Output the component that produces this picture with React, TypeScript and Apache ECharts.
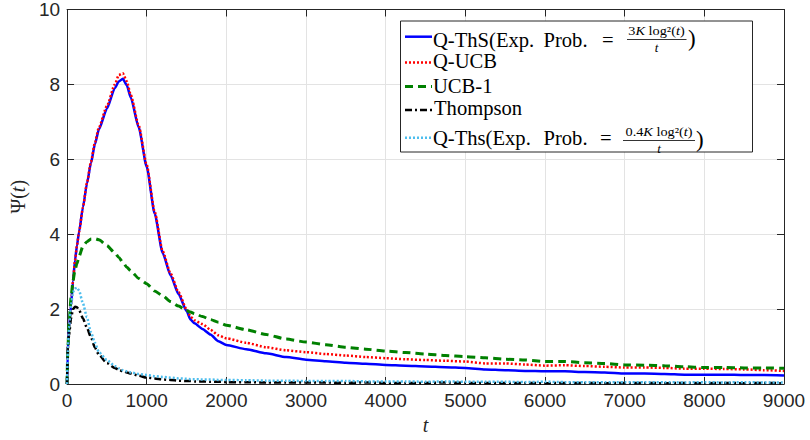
import React, { useEffect, useRef } from "react";
import * as echarts from "echarts";

const tPoints = [0, 10, 25, 50, 75, 100, 125, 150, 200, 250, 300, 350, 400, 500, 600, 650, 700, 750, 800, 900, 1000, 1100, 1200, 1300, 1400, 1500, 1550, 1600, 1700, 1800, 1900, 2000, 2250, 2500, 2750, 3000, 3250, 3500, 3750, 4000, 4250, 4500, 4750, 5000, 5250, 5500, 5750, 6000, 6250, 6500, 6750, 7000, 7250, 7500, 7750, 8000, 8250, 8500, 8750, 9000];

const qThs3K = [0, 0.9, 1.5, 2.1, 2.75, 3.3, 3.7, 4.05, 4.72, 5.35, 5.9, 6.4, 6.8, 7.35, 7.9, 8.08, 8.15, 7.98, 7.65, 6.85, 5.8, 4.55, 3.5, 2.9, 2.4, 1.95, 1.72, 1.62, 1.47, 1.32, 1.14, 1.04, 0.93, 0.82, 0.72, 0.65, 0.61, 0.57, 0.54, 0.51, 0.49, 0.47, 0.45, 0.43, 0.39, 0.37, 0.35, 0.34, 0.34, 0.32, 0.31, 0.28, 0.28, 0.27, 0.25, 0.25, 0.25, 0.24, 0.24, 0.23];
const qUcb = [0, 0.9, 1.5, 2.1, 2.75, 3.3, 3.7, 4.05, 4.72, 5.37, 5.93, 6.45, 6.85, 7.42, 8.0, 8.25, 8.3, 8.08, 7.72, 6.9, 5.85, 4.6, 3.55, 2.95, 2.45, 2.0, 1.8, 1.7, 1.6, 1.45, 1.3, 1.22, 1.1, 0.98, 0.9, 0.85, 0.8, 0.76, 0.72, 0.69, 0.66, 0.64, 0.62, 0.6, 0.55, 0.55, 0.52, 0.49, 0.5, 0.48, 0.46, 0.44, 0.44, 0.43, 0.41, 0.41, 0.4, 0.39, 0.37, 0.35];
const ucb1 = [0, 0.9, 1.6, 2.3, 2.75, 3.05, 3.22, 3.4, 3.68, 3.8, 3.87, 3.88, 3.85, 3.7, 3.5, 3.38, 3.25, 3.12, 3.02, 2.82, 2.68, 2.48, 2.36, 2.2, 2.08, 1.96, 1.92, 1.88, 1.8, 1.72, 1.65, 1.57, 1.45, 1.32, 1.2, 1.12, 1.05, 0.98, 0.93, 0.88, 0.84, 0.8, 0.76, 0.73, 0.7, 0.66, 0.64, 0.6, 0.6, 0.57, 0.55, 0.51, 0.5, 0.49, 0.46, 0.44, 0.44, 0.43, 0.43, 0.42];
const thompson = [0, 1.0, 1.3, 1.75, 2.0, 2.06, 2.05, 1.98, 1.75, 1.5, 1.25, 0.97, 0.78, 0.56, 0.43, 0.38, 0.34, 0.31, 0.28, 0.22, 0.17, 0.15, 0.12, 0.11, 0.09, 0.08, 0.08, 0.07, 0.07, 0.06, 0.06, 0.05, 0.05, 0.04, 0.04, 0.04, 0.04, 0.03, 0.04, 0.03, 0.03, 0.03, 0.04, 0.03, 0.03, 0.03, 0.03, 0.02, 0.03, 0.03, 0.02, 0.03, 0.03, 0.02, 0.03, 0.02, 0.03, 0.02, 0.03, 0.02];
const qThs04K = [0, 0.9, 1.5, 2.1, 2.45, 2.55, 2.57, 2.5, 2.15, 1.78, 1.38, 1.1, 0.85, 0.64, 0.48, 0.42, 0.37, 0.34, 0.31, 0.27, 0.24, 0.21, 0.19, 0.17, 0.15, 0.14, 0.13, 0.13, 0.12, 0.12, 0.11, 0.11, 0.1, 0.09, 0.09, 0.08, 0.08, 0.08, 0.07, 0.07, 0.07, 0.06, 0.07, 0.06, 0.06, 0.06, 0.05, 0.06, 0.05, 0.05, 0.05, 0.05, 0.05, 0.05, 0.04, 0.05, 0.04, 0.05, 0.04, 0.04];

const seriesNames = ["Q-ThS(Exp. Prob. = 3K log²(t)/t)", "Q-UCB", "UCB-1", "Thompson", "Q-Ths(Exp. Prob. = 0.4K log²(t)/t)"];
const seriesValues = [qThs3K, qUcb, ucb1, thompson, qThs04K];
const seriesColors = ["#0000ff", "#ff0000", "#008000", "#000000", "#4dbeee"];
const seriesDash: any[] = ["solid", [2, 2], [8, 5], [7, 3, 2, 3], [2, 2]];
const seriesWidth = [2.5, 2.5, 3, 2.5, 2.5];

const xTickMax = 9000;
const yTickMax = 10;

const SERIF = "'Liberation Serif', 'DejaVu Serif', serif";
const SANS = "'Liberation Sans', Arial, Helvetica, sans-serif";
const AX = "#262626";

export default function App() {
  const ref = useRef<HTMLDivElement>(null);
  useEffect(() => {
    if (!ref.current) return;
    const chart = echarts.init(ref.current, null, { renderer: "svg" });

    const series = seriesValues.map((vals, i) => ({
      name: seriesNames[i],
      type: "line",
      data: tPoints.map((t, k) => [t, vals[k]]),
      showSymbol: false,
      smooth: 0.2,
      smoothMonotone: "x",
      lineStyle: { color: seriesColors[i], width: seriesWidth[i], type: seriesDash[i], cap: "butt" },
      itemStyle: { color: seriesColors[i] },
      z: 2 + i,
    }));

    const sampleY = [36.7, 62.5, 86.5, 110, 137.7];
    const textY = [40, 61.5, 86.5, 108.5, 138.3];
    const legendGraphics: any[] = [];
    legendGraphics.push({
      type: "rect",
      shape: { x: 400.5, y: 21, width: 352, height: 131 },
      style: { fill: "#ffffff", stroke: AX, lineWidth: 1 },
      z: 100,
    });
    sampleY.forEach((y, i) => {
      legendGraphics.push({
        type: "line",
        shape: { x1: 405, y1: y, x2: 432, y2: y },
        style: {
          stroke: seriesColors[i],
          lineWidth: seriesWidth[i],
          lineDash: Array.isArray(seriesDash[i]) ? seriesDash[i] : null,
        },
        z: 101,
      });
    });
    const textStyle = (text: string, fontSize: number, extra: any = {}) => ({
      text,
      fontSize,
      fontFamily: SERIF,
      fill: "#000",
      verticalAlign: "middle",
      rich: {
        i: { fontStyle: "italic", fontSize, fontFamily: SERIF },
        n: { fontSize, fontFamily: SERIF },
      },
      ...extra,
    });
    const addText = (x: number, y: number, text: string, fontSize: number, extra: any = {}, sx = 1.03) => {
      legendGraphics.push({ type: "text", x, y, scaleX: sx, style: textStyle(text, fontSize, extra), z: 102 });
    };
    // Row 1
    addText(433, textY[0], "Q-ThS(Exp.", 20);
    addText(543.5, textY[0], "Prob.", 20);
    addText(602, textY[0], "=", 20);
    addText(656.5, 31, "{n|3}{i|K}{n| log²(}{i|t}{n|)}", 13, { align: "center" }, 1.1);
    legendGraphics.push({ type: "line", shape: { x1: 627, y1: 39.5, x2: 686.5, y2: 39.5 }, style: { stroke: "#000", lineWidth: 0.8 }, z: 102 });
    addText(656.5, 47.5, "{i|t}", 13, { align: "center" }, 1);
    addText(688, 38, ")", 23, {}, 1);
    // Rows 2-4
    addText(433, textY[1], "Q-UCB", 20);
    addText(433, textY[2], "UCB-1", 20);
    addText(434, textY[3], "Thompson", 20);
    // Row 5
    addText(433, textY[4], "Q-Ths(Exp.", 20);
    addText(543.5, textY[4], "Prob.", 20);
    addText(600, textY[4], "=", 20);
    addText(659, 131.5, "{n|0.4}{i|K}{n| log²(}{i|t}{n|)}", 13, { align: "center" }, 1.1);
    legendGraphics.push({ type: "line", shape: { x1: 623, y1: 140.5, x2: 695, y2: 140.5 }, style: { stroke: "#000", lineWidth: 0.8 }, z: 102 });
    addText(659, 148, "{i|t}", 13, { align: "center" }, 1);
    addText(696, 139, ")", 23, {}, 1);

    const option: any = {
      animation: false,
      backgroundColor: "#ffffff",
      grid: { left: 65, right: 26, top: 9, bottom: 50.5, containLabel: false },
      xAxis: [
        {
          type: "value",
          min: 0,
          max: xTickMax,
          interval: 1000,
          position: "bottom",
          name: "{i|t}",
          nameLocation: "middle",
          nameGap: 31,
          nameTextStyle: { rich: { i: { fontStyle: "italic", fontSize: 20, fontFamily: SERIF, color: AX } } },
          axisLine: { show: true, onZero: false, lineStyle: { color: AX, width: 1 } },
          axisTick: { show: true, inside: true, length: 7, lineStyle: { color: AX } },
          axisLabel: { color: AX, fontSize: 19, fontFamily: SANS, margin: 7, formatter: (v: number) => String(v) },
          splitLine: { show: true, lineStyle: { color: "#e3e3e3", width: 1 } },
        },
        {
          type: "value",
          min: 0,
          max: xTickMax,
          interval: 1000,
          position: "top",
          axisLine: { show: true, onZero: false, lineStyle: { color: AX, width: 1 } },
          axisTick: { show: true, inside: true, length: 7, lineStyle: { color: AX } },
          axisLabel: { show: false },
          splitLine: { show: false },
        },
      ],
      yAxis: [
        {
          type: "value",
          min: 0,
          max: yTickMax,
          interval: 2,
          position: "left",
          name: "{n|Ψ(}{i|t}{n|)}",
          nameLocation: "middle",
          nameGap: 35,
          nameTextStyle: {
            rich: {
              n: { fontSize: 20, fontFamily: SERIF, color: AX },
              i: { fontStyle: "italic", fontSize: 20, fontFamily: SERIF, color: AX },
            },
          },
          axisLine: { show: true, onZero: false, lineStyle: { color: AX, width: 1 } },
          axisTick: { show: true, inside: true, length: 7, lineStyle: { color: AX } },
          axisLabel: { color: AX, fontSize: 19, fontFamily: SANS, margin: 7 },
          splitLine: { show: true, lineStyle: { color: "#e3e3e3", width: 1 } },
        },
        {
          type: "value",
          min: 0,
          max: yTickMax,
          interval: 2,
          position: "right",
          axisLine: { show: true, onZero: false, lineStyle: { color: AX, width: 1 } },
          axisTick: { show: true, inside: true, length: 7, lineStyle: { color: AX } },
          axisLabel: { show: false },
          splitLine: { show: false },
        },
      ],
      series,
      graphic: legendGraphics,
    };
    chart.setOption(option);
    return () => chart.dispose();
  }, []);
  return (
    <div
      ref={ref}
      style={{ position: "fixed", left: 0, top: 0, width: 810, height: 440, background: "#fff" }}
    />
  );
}
